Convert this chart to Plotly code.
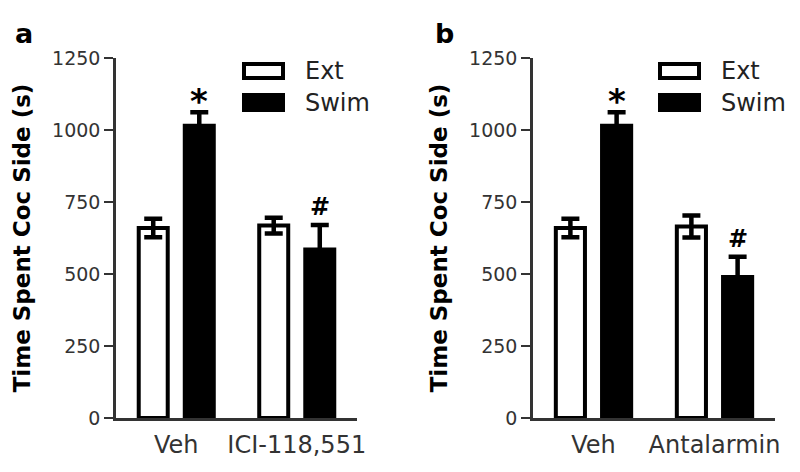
import plotly.graph_objects as go

# ---- data ----
groups_a = ["Veh", "ICI-118,551"]
groups_b = ["Veh", "Antalarmin"]
ext_a = [660, 668]
ext_a_err = [32, 27]
swim_a = [1015, 585]
swim_a_err = [47, 85]
ext_b = [660, 665]
ext_b_err = [32, 38]
swim_b = [1015, 490]
swim_b_err = [47, 70]
sig_a = ["", "", "*", "#"]   # ext1, ext2, swim1, swim2
sig_b = ["", "", "*", "#"]
y_ticks = [0, 250, 500, 750, 1000, 1250]
y_title = "Time Spent Coc Side (s)"
series_names = ["Ext", "Swim"]
panel_labels = ["a", "b"]

# page body has an 8px default margin; size the figure to fill the rest of the window
OFF = 8
W, H = 800 - OFF, 472 - OFF
FONT = "DejaVu Sans"
AX = "#333333"

fig = go.Figure()

def px_x(v):
    return (v - OFF) / W

def px_y(v):
    return 1 - (v - OFF) / H

panels = [
    dict(groups=groups_a, ext=ext_a, exte=ext_a_err, swim=swim_a, swime=swim_a_err, sig=sig_a,
         xdom=[px_x(116), px_x(357)], xa="x", ya="y"),
    dict(groups=groups_b, ext=ext_b, exte=ext_b_err, swim=swim_b, swime=swim_b_err, sig=sig_b,
         xdom=[px_x(533), px_x(775)], xa="x2", ya="y2"),
]
ydom = [px_y(418), px_y(58)]

for p in panels:
    fig.add_trace(go.Bar(
        x=p["groups"], y=p["ext"], name=series_names[0], xaxis=p["xa"], yaxis=p["ya"],
        marker=dict(color="white", line=dict(color="black", width=4)),
        error_y=dict(type="data", array=p["exte"], visible=True, color="black",
                     thickness=4.5, width=9),
        showlegend=False, offsetgroup="ext",
    ))
    fig.add_trace(go.Bar(
        x=p["groups"], y=p["swim"], name=series_names[1], xaxis=p["xa"], yaxis=p["ya"],
        marker=dict(color="black", line=dict(color="black", width=4)),
        error_y=dict(type="data", array=p["swime"], visible=True, color="black",
                     thickness=4.5, width=9),
        showlegend=False, offsetgroup="swim",
    ))

axis_common_y = dict(
    range=[0, 1250], tickvals=y_ticks, showline=True, linecolor=AX, linewidth=2.5,
    ticks="outside", ticklen=9, tickwidth=2, tickcolor=AX, showgrid=False, zeroline=False,
    tickfont=dict(family=FONT, size=19, color=AX), automargin=False, domain=ydom,
    title=dict(text=y_title, font=dict(family=FONT, size=23, color="black", weight="bold"),
               standoff=16),
    fixedrange=True,
)
axis_common_x = dict(
    showline=True, linecolor=AX, linewidth=2.5, ticks="", showgrid=False, zeroline=False,
    tickfont=dict(family=FONT, size=24, color=AX), automargin=False, ticklabelstandoff=3,
)

fig.update_layout(
    width=W, height=H, margin=dict(l=0, r=0, t=0, b=0),
    paper_bgcolor="white", plot_bgcolor="white",
    barmode="group", bargap=0.236, bargroupgap=0.37,
    showlegend=False,
    xaxis=dict(domain=panels[0]["xdom"], anchor="y", **axis_common_x),
    xaxis2=dict(domain=panels[1]["xdom"], anchor="y2", **axis_common_x),
    yaxis=dict(anchor="x", **axis_common_y),
    yaxis2=dict(anchor="x2", **axis_common_y),
)

annotations = []
shapes = []
# significance marks
for p in panels:
    xr = p["xa"]
    yr = p["ya"]
    tops = [m + e for m, e in zip(p["ext"], p["exte"])] + [m + e for m, e in zip(p["swim"], p["swime"])]
    cats = p["groups"] + p["groups"]
    for i, s in enumerate(p["sig"]):
        if not s:
            continue
        shift = -23 if i < 2 else 23
        big = s == "*"
        annotations.append(dict(
            x=cats[i], y=tops[i], xref=xr, yref=yr, text=s, showarrow=False,
            xshift=shift, yshift=-11 if big else 2, yanchor="bottom",
            font=dict(family=FONT, size=34 if big else 24, color="black", weight="bold"),
        ))

# panel letters
for lab, xpx in zip(panel_labels, [24, 444]):
    annotations.append(dict(
        x=px_x(xpx), y=px_y(34), xref="paper", yref="paper", text=lab, showarrow=False,
        xanchor="center", yanchor="middle",
        font=dict(family=FONT, size=27, color="black", weight="bold"),
    ))

# legends (drawn as boxes + text)
for bx in [242, 658]:
    for name, y0, y1, fill in [(series_names[0], 62, 80, "white"),
                               (series_names[1], 93, 112, "black")]:
        shapes.append(dict(
            type="rect", xref="paper", yref="paper",
            x0=px_x(bx + 2), x1=px_x(bx + 41), y0=px_y(y1 - 2), y1=px_y(y0 + 2),
            fillcolor=fill, line=dict(color="black", width=4),
        ))
        annotations.append(dict(
            x=px_x(bx + 61), y=px_y((y0 + y1) / 2), xref="paper", yref="paper", text=name,
            showarrow=False, xanchor="left", yanchor="middle",
            font=dict(family=FONT, size=24, color="#222222"),
        ))

fig.update_layout(annotations=annotations, shapes=shapes)

fig.write_html("out.html")
